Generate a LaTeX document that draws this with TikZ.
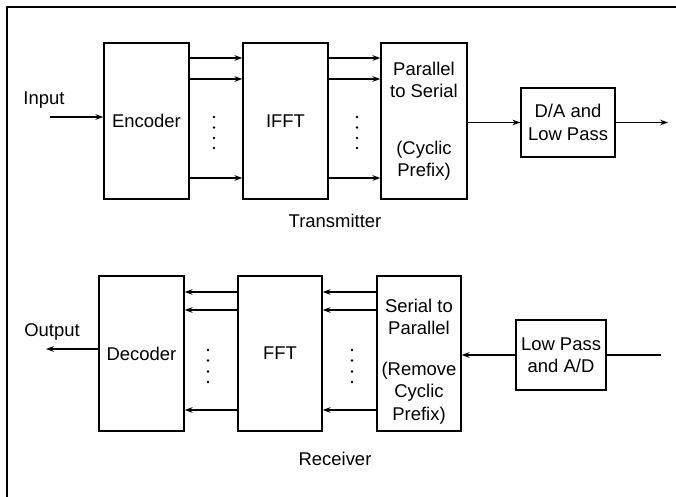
\documentclass[tikz,border=0pt]{standalone}
\usepackage{fontspec}
\setmainfont{Liberation Sans}
\usetikzlibrary{arrows.meta}

\begin{document}
\begin{tikzpicture}[>={Stealth[length=4.5pt,width=3.2pt]}, line width=0.7pt,
    font=\fontsize{10.5}{12.8}\selectfont,
    blockbox/.style={draw, line width=0.8pt, minimum width=1.70cm, minimum height=3.12cm, align=center, inner sep=1pt},
    smallbox/.style={draw, line width=0.8pt, minimum height=1.38cm, align=center, inner sep=1pt}]

    \useasboundingbox (0,0) rectangle (13.52,9.94);

    % --- 1. Frame (cut off at right and bottom) ---
    \draw [line width=0.8pt] (0.14,0) -- (0.14,9.80) -- (13.52,9.80);

    % --- 2. Transmitter blocks ---
    \node [blockbox] (enc) at (2.93,7.52) {Encoder};
    \node [blockbox] (ifft) at (5.71,7.52) {IFFT};
    \node [blockbox, minimum width=1.72cm] (ps) at (8.48,7.52) {Parallel\\to Serial\\[0.68cm](Cyclic\\Prefix)};
    \node [smallbox, minimum width=1.88cm] (da) at (11.36,7.49) {D/A and\\Low Pass};

    % parallel lines
    \foreach \y in {8.78, 8.36, 6.38} {
        \draw [->] (enc.east |- 0,\y) -- (ifft.west |- 0,\y);
        \draw [->] (ifft.east |- 0,\y) -- (ps.west |- 0,\y);
    }
    \foreach \y in {7.60, 7.39, 7.18, 6.98} {
        \fill (4.28,\y) circle (0.028);
        \fill (7.14,\y) circle (0.028);
    }

    \coordinate (txin) at (1.0,7.60);
    \node (inlabel) at (0.88,7.94) {Input};
    \draw [->] (txin) -- (enc.west |- txin);
    \draw [->] (ps.east |- da.west) -- (da.west);
    \coordinate (txout) at (13.36,7.49);
    \draw [->] (da.east) -- (txout);

    \node (txlabel) at (6.70,5.52) {Transmitter};

    % --- 3. Receiver blocks ---
    \node [blockbox, minimum height=3.10cm] (dec) at (2.83,2.87) {Decoder};
    \node [blockbox, minimum height=3.10cm, minimum width=1.68cm] (fft) at (5.60,2.87) {FFT};
    % strut on first line pushes the text a little lower
    \node [blockbox, minimum height=3.10cm, minimum width=1.68cm] (sp) at (8.38,2.87) {\rule{0pt}{0.58cm}Serial to\\Parallel\\[0.36cm](Remove\\Cyclic\\Prefix)};
    \node [smallbox, minimum width=1.80cm, minimum height=1.40cm] (lp) at (11.22,2.84) {Low Pass\\and A/D};

    % parallel lines
    \foreach \y in {4.10, 3.74, 1.74} {
        \draw [->] (fft.west |- 0,\y) -- (dec.east |- 0,\y);
        \draw [->] (sp.west |- 0,\y) -- (fft.east |- 0,\y);
    }
    \foreach \y in {2.94, 2.73, 2.51, 2.30} {
        \fill (4.16,\y) circle (0.028);
        \fill (7.04,\y) circle (0.028);
    }

    \coordinate (rxout) at (0.92,2.96);
    \node (outlabel) at (1.04,3.30) {Output};
    \draw [->] (dec.west |- rxout) -- (rxout);
    \draw [->] (lp.west) -- (sp.east |- lp.west);
    \coordinate (rxin) at (13.22,2.84);
    \draw (rxin) -- (lp.east);

    \node (rxlabel) at (6.70,0.76) {Receiver};

\end{tikzpicture}
\end{document}
